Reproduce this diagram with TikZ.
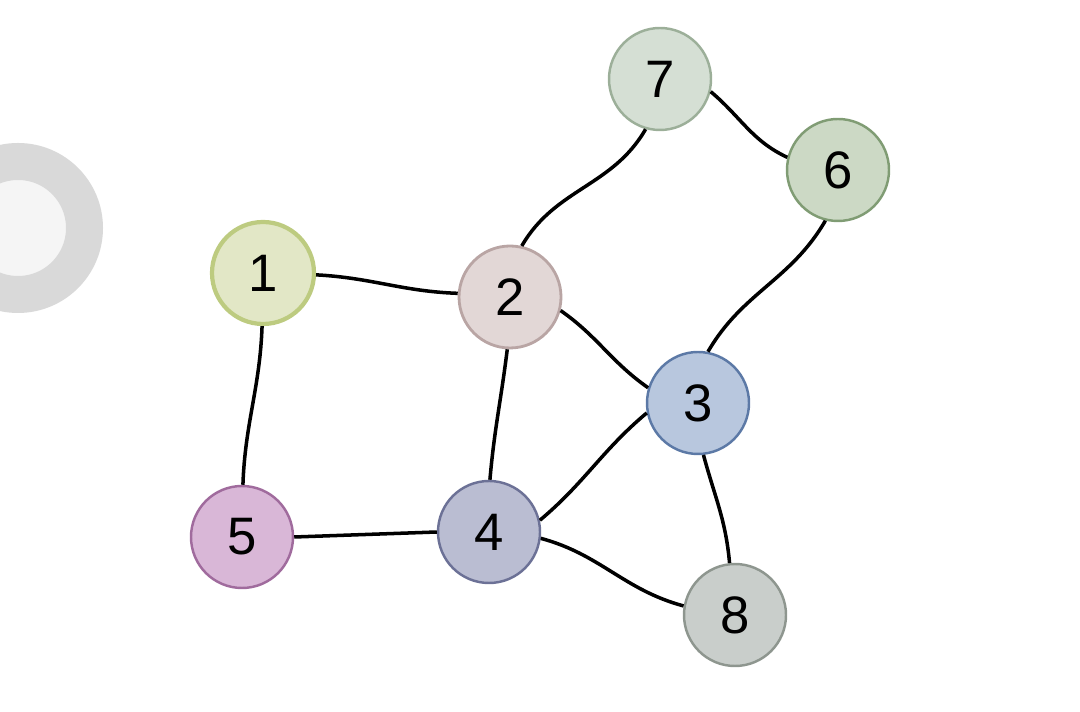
\documentclass[tikz,border=0pt]{standalone}
\usepackage{fontspec}
\setmainfont{Liberation Sans}
\usetikzlibrary{positioning}
\definecolor{LimeSoft}{HTML}{E2E7C6}
\definecolor{Lime}{HTML}{BDCB80}
\definecolor{RoseSoft}{HTML}{E2D7D6}
\definecolor{Rose}{HTML}{B9A5A4}
\definecolor{BlueSoft}{HTML}{B8C7DE}
\definecolor{Blue}{HTML}{5C79A6}
\definecolor{SlateSoft}{HTML}{BABDD2}
\definecolor{Slate}{HTML}{6C7196}
\definecolor{MauveSoft}{HTML}{D9B7D7}
\definecolor{Mauve}{HTML}{A06B9D}
\definecolor{SageSoft}{HTML}{CCD9C5}
\definecolor{Sage}{HTML}{809C74}
\definecolor{MintSoft}{HTML}{D5DFD4}
\definecolor{Mint}{HTML}{9CAF99}
\definecolor{StoneSoft}{HTML}{C9CECB}
\definecolor{Stone}{HTML}{8E968F}
\definecolor{RingGray}{HTML}{D9D9D9}
\definecolor{RingFill}{HTML}{F5F5F5}
\tikzset{
  vertex/.style={circle,minimum size=20.4mm,inner sep=0pt,line width=1.4pt,text=black,font=\fontsize{30}{36}\selectfont},
  link/.style={line width=2pt,draw=black}
}

\begin{document}
\begin{tikzpicture}[x=1cm,y=1cm]
  \useasboundingbox (0,0) rectangle (21.6,14.24);
  \clip (0,0) rectangle (21.6,14.24);
  % grey ring at the left edge
  \draw[RingGray,line width=7.4mm,fill=RingFill] (0.36,9.68) circle (1.33);

  % vertices
  \foreach \id/\px/\py/\col/\lw in {1/5.26/8.78/Lime/2.4pt,2/10.20/8.30/Rose/1.6pt,3/13.96/6.18/Blue/1.4pt,4/9.78/3.60/Slate/1.4pt,
      5/4.84/3.50/Mauve/1.4pt,6/16.76/10.84/Sage/1.4pt,7/13.20/12.66/Mint/1.4pt,8/14.70/1.94/Stone/1.4pt}{
    \node[vertex,fill=\col Soft,draw=\col,line width=\lw] (v\id) at (\px,\py) {\id};
  }

  % edges
  \draw[link] (v1.-2) to[out=-3,in=178] (v2.176);
  \draw[link] (v1.-91) to[out=-92,in=88] (v5.89);
  \draw[link] (v2.77) to[out=60,in=-120] (v7.-106);
  \draw[link] (v7.-14) to[out=-40,in=155] (v6.166);
  \draw[link] (v6.-104) to[out=-120,in=60] (v3.79);
  \draw[link] (v2.-15) to[out=-35,in=145] (v3.163);
  \draw[link] (v2.-93) to[out=-97,in=85] (v4.89);
  \draw[link] (v3.-169) to[out=-140,in=40] (v4.13);
  \draw[link] (v3.-84) to[out=-75,in=95] (v8.96);
  \draw[link] (v4.180) -- (v5.0);
  \draw[link] (v4.-7) to[out=-15,in=165] (v8.170);
\end{tikzpicture}
\end{document}
